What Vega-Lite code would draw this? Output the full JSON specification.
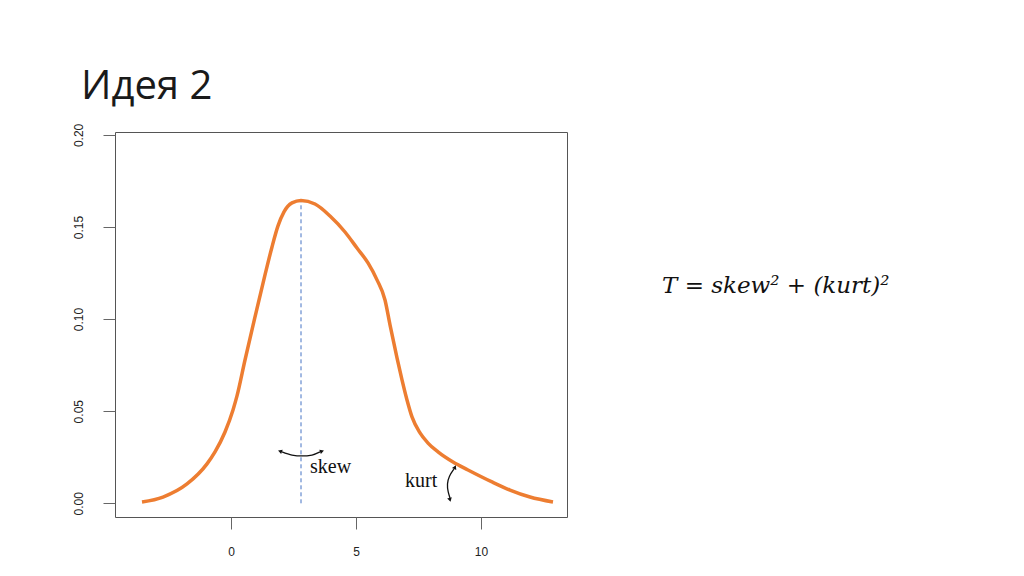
{
  "$schema": "https://vega.github.io/schema/vega-lite/v6.json",
  "width": 452,
  "height": 385,
  "autosize": "none",
  "padding": {"left": 115, "top": 132, "right": 457, "bottom": 59},
  "background": "white",
  "config": {
    "view": {"stroke": "#555555", "strokeWidth": 1},
    "axis": {"grid": false, "domain": false, "labelFont": "Liberation Sans", "labelFontSize": 12, "labelColor": "#222222", "tickColor": "#666666", "tickSize": 12, "title": null}
  },
  "title": {"text": "Идея 2", "anchor": "start", "frame": "group", "font": "Open Sans", "fontWeight": "normal", "fontSize": 40, "color": "#1a1a1a", "dx": -34, "offset": 16},
  "datasets": {
    "curve": [
      {"x": -3.56, "y": 0.0007}, {"x": -2.72, "y": 0.0034}, {"x": -1.76, "y": 0.0105}, {"x": -0.96, "y": 0.0214},
      {"x": -0.64, "y": 0.0279}, {"x": -0.24, "y": 0.0387}, {"x": 0.08, "y": 0.0507}, {"x": 0.24, "y": 0.0583},
      {"x": 0.56, "y": 0.0778}, {"x": 0.96, "y": 0.1012}, {"x": 1.36, "y": 0.124}, {"x": 1.64, "y": 0.1392},
      {"x": 1.88, "y": 0.1506}, {"x": 2.12, "y": 0.1582}, {"x": 2.44, "y": 0.1631}, {"x": 2.8, "y": 0.1644},
      {"x": 3.36, "y": 0.1625}, {"x": 3.96, "y": 0.156}, {"x": 4.56, "y": 0.1473}, {"x": 5.04, "y": 0.1386},
      {"x": 5.48, "y": 0.1305}, {"x": 5.84, "y": 0.1213}, {"x": 6.16, "y": 0.1104}, {"x": 6.36, "y": 0.0969},
      {"x": 6.64, "y": 0.0789}, {"x": 6.84, "y": 0.067}, {"x": 7.04, "y": 0.0561}, {"x": 7.24, "y": 0.0469},
      {"x": 7.56, "y": 0.0382}, {"x": 7.88, "y": 0.0327}, {"x": 8.28, "y": 0.0279}, {"x": 8.88, "y": 0.0224},
      {"x": 9.48, "y": 0.0181}, {"x": 10.44, "y": 0.0116}, {"x": 11.16, "y": 0.0072}, {"x": 11.96, "y": 0.0034},
      {"x": 12.88, "y": 0.0007}
    ],
    "mode": [{"x": 2.8, "y": 0, "y2": 0.1644}],
    "skewArc": [{"x": 2.04, "y": 0.0279}, {"x": 2.44, "y": 0.0262}, {"x": 2.84, "y": 0.0257}, {"x": 3.24, "y": 0.0262}, {"x": 3.56, "y": 0.0279}],
    "kurtArc": [{"x": 8.92, "y": 0.0186, "o": 1}, {"x": 8.72, "y": 0.0148, "o": 2}, {"x": 8.64, "y": 0.0105, "o": 3}, {"x": 8.68, "y": 0.0061, "o": 4}, {"x": 8.76, "y": 0.0029, "o": 5}],
    "heads": [
      {"x": 1.96, "y": 0.0283, "shape": "triangle-left", "angle": 20},
      {"x": 3.64, "y": 0.0283, "shape": "triangle-right", "angle": 340},
      {"x": 8.96, "y": 0.0196, "shape": "triangle-up", "angle": 25},
      {"x": 8.76, "y": 0.0019, "shape": "triangle-down", "angle": 345}
    ],
    "labels": [
      {"x": 3.16, "y": 0.0165, "label": "skew"},
      {"x": 6.96, "y": 0.0089, "label": "kurt"}
    ],
    "formula": [{"x": 17.24, "y": 0.1142, "label": "T = skew² + (kurt)²"}]
  },
  "layer": [
    {
      "mark": {"type": "rule", "color": "#e2e2e2", "strokeWidth": 1},
      "encoding": {"y": {"datum": 0, "type": "quantitative", "scale": {"domain": [-0.00744, 0.2016], "nice": false, "zero": false}}}
    },
    {
      "data": {"name": "mode"},
      "mark": {"type": "rule", "color": "#4472C4", "strokeWidth": 1, "strokeDash": [4, 3]},
      "encoding": {
        "x": {"field": "x", "type": "quantitative"},
        "y": {"field": "y", "type": "quantitative"},
        "y2": {"field": "y2"}
      }
    },
    {
      "data": {"name": "curve"},
      "mark": {"type": "line", "color": "#ED7D31", "strokeWidth": 3.5, "interpolate": "monotone"},
      "encoding": {
        "x": {"field": "x", "type": "quantitative", "scale": {"domain": [-4.64, 13.44], "nice": false, "zero": false},
              "axis": {"values": [0, 5, 10], "labelPadding": 17, "labelBaseline": "top"}},
        "y": {"field": "y", "type": "quantitative", "scale": {"domain": [-0.00744, 0.2016], "nice": false, "zero": false},
              "axis": {"values": [0, 0.05, 0.1, 0.15, 0.2], "format": ".2f", "labelAngle": 270, "labelAlign": "center", "labelBaseline": "bottom", "labelPadding": 18}}
      }
    },
    {
      "data": {"name": "skewArc"},
      "mark": {"type": "line", "color": "#111111", "strokeWidth": 1.3, "interpolate": "monotone"},
      "encoding": {"x": {"field": "x", "type": "quantitative"}, "y": {"field": "y", "type": "quantitative"}}
    },
    {
      "data": {"name": "kurtArc"},
      "mark": {"type": "line", "color": "#111111", "strokeWidth": 1.3, "interpolate": "basis"},
      "encoding": {"x": {"field": "x", "type": "quantitative"}, "y": {"field": "y", "type": "quantitative"}, "order": {"field": "o"}}
    },
    {
      "data": {"name": "heads"},
      "mark": {"type": "point", "filled": true, "color": "#111111", "size": 22, "opacity": 1},
      "encoding": {
        "x": {"field": "x", "type": "quantitative"},
        "y": {"field": "y", "type": "quantitative"},
        "shape": {"field": "shape", "type": "nominal", "scale": null},
        "angle": {"field": "angle", "type": "quantitative", "scale": null}
      }
    },
    {
      "data": {"name": "labels"},
      "mark": {"type": "text", "font": "Liberation Serif", "fontSize": 20, "align": "left", "baseline": "alphabetic", "color": "#111111"},
      "encoding": {"x": {"field": "x", "type": "quantitative"}, "y": {"field": "y", "type": "quantitative"}, "text": {"field": "label"}}
    },
    {
      "data": {"name": "formula"},
      "mark": {"type": "text", "font": "DejaVu Serif", "fontStyle": "italic", "fontSize": 23, "align": "left", "baseline": "alphabetic", "color": "#111111", "clip": false},
      "encoding": {"x": {"field": "x", "type": "quantitative"}, "y": {"field": "y", "type": "quantitative"}, "text": {"field": "label"}}
    }
  ]
}
